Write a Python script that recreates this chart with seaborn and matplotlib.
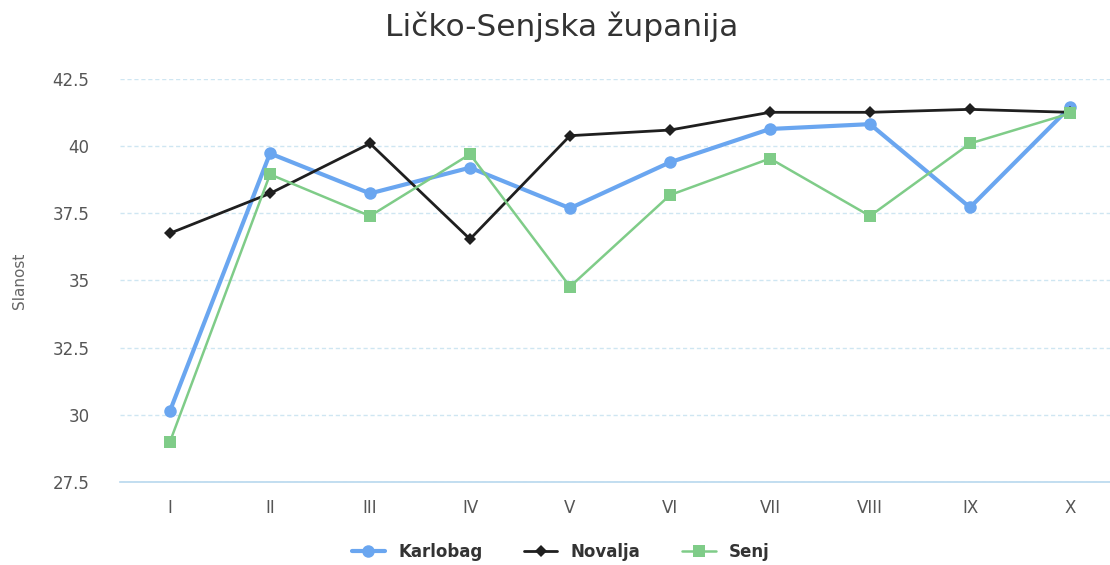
import matplotlib
matplotlib.use("Agg")
import matplotlib.pyplot as plt
import seaborn as sns
import pandas as pd

months = ["I", "II", "III", "IV", "V", "VI", "VII", "VIII", "IX", "X"]
karlobag = [30.15, 39.73, 38.24, 39.2, 37.69, 39.4, 40.64, 40.82, 37.72, 41.45]
novalja = [36.76, 38.24, 40.1, 36.54, 40.39, 40.6, 41.26, 41.26, 41.37, 41.26]
senj = [29.0, 38.95, 37.4, 39.7, 34.77, 38.18, 39.54, 37.4, 40.1, 41.22]
yticks = [27.5, 30, 32.5, 35, 37.5, 40, 42.5]
ytick_labels = ["27.5", "30", "32.5", "35", "37.5", "40", "42.5"]

sns.set_theme(style="white")
plt.rcParams['font.family'] = ['DejaVu Sans']

df = pd.DataFrame({
    "month": list(range(len(months))) * 3,
    "value": karlobag + novalja + senj,
    "series": ["Karlobag"] * 10 + ["Novalja"] * 10 + ["Senj"] * 10,
})

fig = plt.figure(figsize=(11.1, 5.65), dpi=100)
ax = fig.add_axes([120 / 1110, 1 - 482 / 565, 990 / 1110, (482 - 79) / 565])

styles = {
    "Karlobag": dict(color="#6aa6f0", marker="o", lw=3.0, ms=9),
    "Novalja": dict(color="#1f1f1f", marker="D", lw=2.0, ms=6),
    "Senj": dict(color="#7fcc88", marker="s", lw=1.8, ms=8),
}
for name, st in styles.items():
    sub = df[df["series"] == name]
    sns.lineplot(data=sub, x="month", y="value", ax=ax, color=st["color"],
                 marker=st["marker"], markersize=st["ms"], linewidth=st["lw"],
                 markeredgewidth=0, label=name, legend=False, zorder=3)

ax.set_xlim(-0.5, 9.4)
ax.set_ylim(27.5, 42.5)
ax.set_yticks(yticks)
ax.set_yticklabels(ytick_labels)
ax.set_xticks(range(len(months)))
ax.set_xticklabels(months)
ax.tick_params(axis="both", length=0, labelsize=12, colors="#555555")
ax.tick_params(axis="x", pad=12)
ax.tick_params(axis="y", pad=22)
ax.yaxis.grid(True, color="#cfe6f2", linestyle=(0, (3, 2)), linewidth=1)
ax.xaxis.grid(False)
for s in ["top", "right", "left"]:
    ax.spines[s].set_visible(False)
ax.spines["bottom"].set_color("#b8d8ee")
ax.spines["bottom"].set_linewidth(1.2)
ax.set_xlabel("")
ax.set_ylabel("Slanost", color="#666666", fontsize=11)
ax.yaxis.set_label_coords(-93 / 990, 0.5)

fig.text(0.506, 1 - 27 / 565, "Ličko-Senjska županija", ha="center", va="center",
         fontsize=22.5, color="#333333")

handles, labels = ax.get_legend_handles_labels()
leg = fig.legend(handles, labels, loc="center", bbox_to_anchor=(0.505, 1 - 552 / 565),
                 ncol=3, frameon=False, handlelength=2.0, columnspacing=2.5,
                 prop={"weight": "bold", "size": 12})
for t in leg.get_texts():
    t.set_color("#333333")

fig.savefig("out.png", dpi=100)
